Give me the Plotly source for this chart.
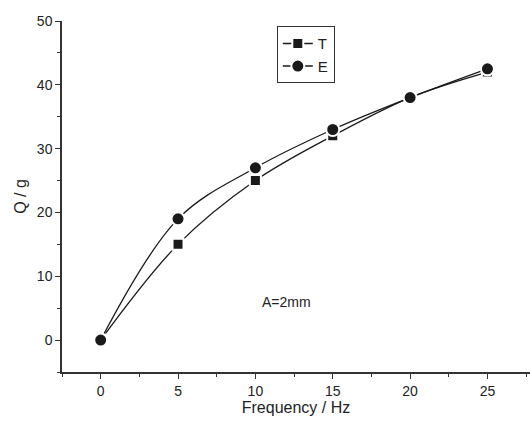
import plotly.graph_objects as go

freq = [0, 5, 10, 15, 20, 25]
q_T = [0, 15, 25, 32, 38, 42]
q_E = [0, 19, 27, 33, 38, 42.5]

fig = go.Figure()
fig.add_trace(go.Scatter(
    x=freq, y=q_T, name="T", mode="lines+markers",
    line=dict(color="#1a1a1a", width=1.3, shape="spline"),
    marker=dict(symbol="square", size=11, color="#1a1a1a",
                line=dict(color="white", width=2)),
))
fig.add_trace(go.Scatter(
    x=freq, y=q_E, name="E", mode="lines+markers",
    line=dict(color="#1a1a1a", width=1.3, shape="spline"),
    marker=dict(symbol="circle", size=13, color="#1a1a1a",
                line=dict(color="white", width=2)),
))

axis_common = dict(
    showline=True, linecolor="#333333", linewidth=1.5,
    ticks="outside", ticklen=5, tickwidth=1.2, tickcolor="#333333",
    showgrid=False, zeroline=False,
    tickfont=dict(family="Liberation Sans, Arial", size=14, color="#222222"),
    title_font=dict(family="Liberation Sans, Arial", size=16, color="#222222"),
    minor=dict(ticks="outside", ticklen=3, tickwidth=1.2, tickcolor="#333333"),
)

fig.update_xaxes(range=[-2.5, 27.75], tickvals=[0, 5, 10, 15, 20, 25],
                 minor_dtick=2.5, minor_tick0=-2.5,
                 title_text="Frequency / Hz", title_standoff=4, **axis_common)
fig.update_yaxes(range=[-5, 50], tickvals=[0, 10, 20, 30, 40, 50],
                 minor_dtick=5, minor_tick0=-5,
                 title_text="Q / g", title_standoff=6, **axis_common)

fig.add_annotation(x=12, y=5.95, text="A=2mm", showarrow=False,
                   font=dict(family="Liberation Sans, Arial", size=14, color="#222222"))

fig.update_layout(
    width=530, height=424,
    margin=dict(l=62, r=0, t=21, b=52),
    paper_bgcolor="white", plot_bgcolor="white",
    legend=dict(x=0.459, y=0.985, xanchor="left", yanchor="top",
                bordercolor="#333333", borderwidth=1, bgcolor="white",
                font=dict(family="Liberation Sans, Arial", size=15, color="#222222"),
                itemwidth=30, tracegroupgap=0),
    showlegend=True,
)

fig.write_html("out.html")
